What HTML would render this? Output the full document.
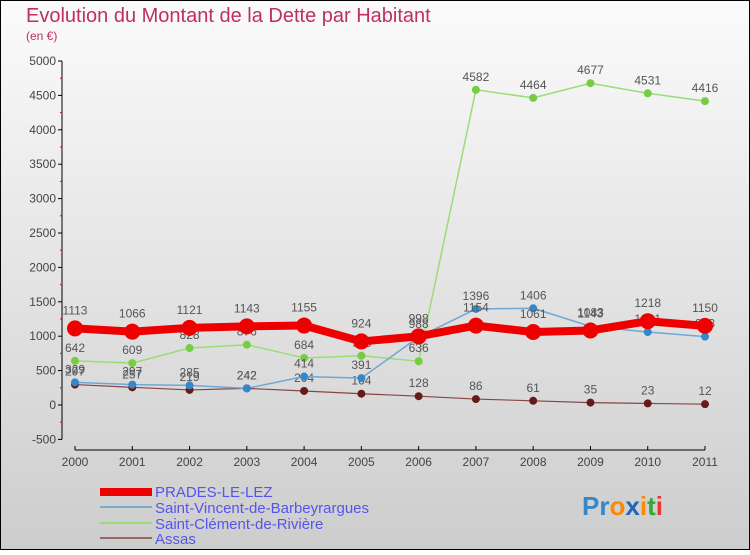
<!DOCTYPE html>
<html><head><meta charset="utf-8"><style>
html,body{margin:0;padding:0;}
body{width:750px;height:550px;overflow:hidden;font-family:"Liberation Sans",sans-serif;}
</style></head><body>
<svg width="750" height="550" viewBox="0 0 750 550" xmlns="http://www.w3.org/2000/svg">
<defs><linearGradient id="bg" x1="0" y1="0" x2="0" y2="1"><stop offset="0" stop-color="#fbfbfb"/><stop offset="1" stop-color="#cdcdcd"/></linearGradient></defs>
<rect x="0.5" y="0.5" width="749" height="549" fill="url(#bg)" stroke="#000"/>
<text x="26" y="22" font-size="20" fill="#c0305a">Evolution du Montant de la Dette par Habitant</text>
<text x="26" y="40" font-size="12" fill="#c0305a">(en €)</text>
<g id="axes"></g>
<g id="series"></g>
<g id="legend">
<rect x="100" y="488" width="52" height="8" fill="#ee0000"/>
<text x="155" y="497" font-size="15" fill="#5555ee">PRADES-LE-LEZ</text>
<rect x="100" y="506" width="52" height="2" fill="#77aacc"/>
<text x="155" y="513" font-size="15" fill="#5555ee">Saint-Vincent-de-Barbeyrargues</text>
<rect x="100" y="522" width="52" height="2" fill="#99dd77"/>
<text x="155" y="529" font-size="15" fill="#5555ee">Saint-Clément-de-Rivière</text>
<rect x="100" y="537" width="52" height="2" fill="#996666"/>
<text x="155" y="544" font-size="15" fill="#5555ee">Assas</text>
</g>
<g font-size="26" font-weight="bold">
<text x="582" y="515"><tspan fill="#3388cc">P</tspan><tspan fill="#3388cc">r</tspan><tspan fill="#ff8800">o</tspan><tspan fill="#2266bb">x</tspan><tspan fill="#ff8800">i</tspan><tspan fill="#33aa33">t</tspan><tspan fill="#ee3333">i</tspan></text>
</g>
</svg>
<script>
const years = ["2000","2001","2002","2003","2004","2005","2006","2007","2008","2009","2010","2011"];
const prades = [1113,1066,1121,1143,1155,924,998,1154,1061,1083,1218,1150];
const vincent = [329,297,285,242,414,391,988,1396,1406,1143,1061,993];
const clement = [642,609,828,876,684,715,636,4582,4464,4677,4531,4416];
const assas = [297,257,219,242,204,164,128,86,61,35,23,12];
const yTicks = [-500,0,500,1000,1500,2000,2500,3000,3500,4000,4500,5000];

const NS="http://www.w3.org/2000/svg";
function xS(i){return 75+i*(630/11);}
function yS(v){return 405-v*(344/5000);}
function mk(tag,attrs,parent){const e=document.createElementNS(NS,tag);for(const k in attrs)e.setAttribute(k,attrs[k]);parent.appendChild(e);return e;}
const axes=document.getElementById('axes');
const ya=mk('line',{x1:62,y1:yS(5000),x2:62,y2:yS(-500),stroke:'#000'},axes);


yTicks.forEach((t,i)=>{
  const tk=mk('line',{x1:58,y1:yS(t),x2:62,y2:yS(t),stroke:'#000'},axes);
  
  
  const lb=mk('text',{x:56,y:yS(t)+4,'font-size':12,fill:'#444','text-anchor':'end'},axes);
  lb.textContent=t;
  
  
  if(i<yTicks.length-1){
    const mn=mk('line',{x1:60,y1:yS(t+250),x2:62,y2:yS(t+250),stroke:'#e00'},axes);
    
    
  }
});
const xa=mk('line',{x1:75,y1:450,x2:705,y2:450,stroke:'#000'},axes);


years.forEach((y,i)=>{
  const tk=mk('line',{x1:xS(i),y1:446,x2:xS(i),y2:450,stroke:'#000'},axes);
  
  
  const lb=mk('text',{x:xS(i),y:466,'font-size':12,fill:'#444','text-anchor':'middle'},axes);
  lb.textContent=y;
  
  
});
const sg=document.getElementById('series');
function draw(vals,name,color,w,r,dot,lblDy){
  const pts=vals.map((v,i)=>xS(i)+','+yS(v)).join(' ');
  const pl=mk('polyline',{points:pts,fill:'none',stroke:color,'stroke-width':w,'stroke-linejoin':'round'},sg);
  
  
  vals.forEach((v,i)=>{
    const c=mk('circle',{cx:xS(i),cy:yS(v),r:r,fill:dot},sg);
    
    
    const t=mk('text',{x:xS(i),y:yS(v)+lblDy,'font-size':12,fill:'#555','text-anchor':'middle'},sg);
    t.textContent=v;
    
    
  });
}
draw(assas,'assas','#884444',1.2,4,'#661a1a',-9);
draw(clement,'clement','#99dd77',1.5,4,'#77cc44',-9);
draw(vincent,'vincent','#6fa8d6',1.5,4,'#3388cc',-9);
draw(prades,'prades','#ee0000',8,8,'#ee0000',-14);
</script>
</body></html>
